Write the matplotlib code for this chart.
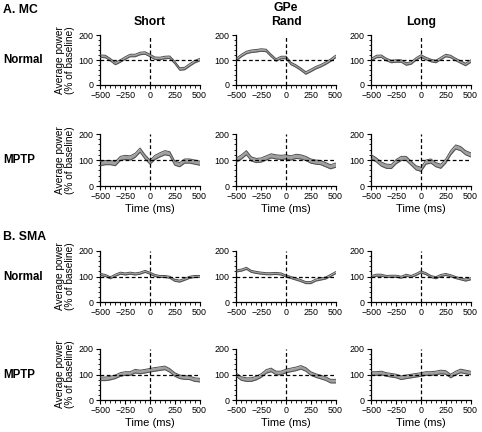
import numpy as np
import matplotlib
matplotlib.use("Agg")
import matplotlib.pyplot as plt
from matplotlib.ticker import MultipleLocator

plt.rcParams['font.family'] = ['Liberation Sans', 'DejaVu Sans']

# time axis (ms)
t = [-500, -450, -400, -350, -300, -250, -200, -150, -100, -50, 0,
     50, 100, 150, 200, 250, 300, 350, 400, 450, 500]

sections = ["A. MC", "B. SMA"]
conditions = ["Normal", "MPTP"]
columns = ["Short", "Rand", "Long"]

# mean average power (% of baseline), per section / condition / column
mc_normal_short = [115, 114, 101, 86, 96, 108, 118, 118, 126, 128, 118, 107, 106, 110, 111, 90, 64, 66, 80, 93, 101]
mc_normal_rand = [103, 118, 130, 135, 137, 140, 138, 118, 100, 110, 110, 86, 76, 63, 48, 58, 69, 77, 87, 99, 114]
mc_normal_long = [102, 114, 115, 102, 94, 96, 96, 84, 88, 104, 116, 106, 98, 94, 106, 118, 114, 102, 92, 82, 95]

mc_mptp_short = [86, 90, 90, 86, 106, 110, 108, 118, 138, 112, 92, 110, 120, 128, 124, 88, 82, 96, 96, 92, 88]
mc_mptp_rand = [100, 112, 128, 104, 98, 100, 108, 116, 112, 110, 112, 108, 114, 112, 106, 96, 92, 90, 82, 74, 80]
mc_mptp_long = [112, 100, 84, 76, 75, 94, 106, 106, 88, 70, 64, 92, 96, 82, 76, 96, 128, 150, 144, 128, 120]

sma_normal_short = [108, 104, 95, 105, 113, 110, 113, 110, 113, 120, 113, 104, 100, 100, 97, 85, 82, 89, 97, 100, 100]
sma_normal_rand = [122, 125, 132, 120, 116, 113, 111, 111, 112, 110, 102, 96, 90, 84, 76, 76, 86, 90, 94, 104, 115]
sma_normal_long = [100, 105, 105, 100, 101, 101, 97, 105, 100, 108, 118, 111, 100, 95, 104, 108, 103, 96, 91, 86, 91]

sma_mptp_short = [83, 83, 86, 91, 100, 104, 104, 113, 110, 113, 117, 120, 123, 126, 116, 100, 91, 88, 87, 80, 78]
sma_mptp_rand = [98, 84, 80, 80, 86, 96, 112, 118, 106, 106, 114, 118, 122, 128, 120, 104, 96, 90, 84, 74, 74]
sma_mptp_long = [104, 104, 106, 100, 97, 94, 87, 91, 94, 97, 100, 104, 104, 106, 110, 108, 94, 106, 114, 110, 106]

# band half-width (sem) per row
sem_rows = [5, 8, 4, 7]

rows = [
    [mc_normal_short, mc_normal_rand, mc_normal_long],
    [mc_mptp_short, mc_mptp_rand, mc_mptp_long],
    [sma_normal_short, sma_normal_rand, sma_normal_long],
    [sma_mptp_short, sma_mptp_rand, sma_mptp_long],
]

W, H = 482, 432
fig = plt.figure(figsize=(W / 100, H / 100), dpi=100)

col_left = [101, 237, 372]
col_w = 98
row_top = [35, 134, 251, 349]
row_bot = [85, 186, 302, 400]

t = np.array(t)
for r in range(4):
    for c in range(3):
        x0 = (col_left[c] - 1) / W
        y0 = 1 - row_bot[r] / H
        ax = fig.add_axes([x0, y0, (col_w + 2) / W, (row_bot[r] - row_top[r]) / H])
        m = np.array(rows[r][c])
        s = sem_rows[r]
        ax.fill_between(t, m - s, m + s, color='#a0a0a0', lw=0, zorder=2)
        ax.plot(t, m + s, color='#505050', lw=0.7, zorder=3)
        ax.plot(t, m - s, color='#505050', lw=0.7, zorder=3)
        ax.axhline(100, color='black', lw=0.9, ls=(0, (3, 2)), zorder=4)
        ax.axvline(0, color='black', lw=0.9, ls=(0, (3, 2)), zorder=4)
        ax.set_xlim(-505, 505)
        ax.set_ylim(0, 200)
        ax.set_xticks([-500, -250, 0, 250, 500])
        ax.set_yticks([0, 100, 200])
        ax.xaxis.set_minor_locator(MultipleLocator(50))
        ax.yaxis.set_minor_locator(MultipleLocator(20))
        ax.tick_params(which='major', length=3, width=0.8, labelsize=6.4, pad=1.5)
        ax.tick_params(which='minor', length=1.8, width=0.6)
        for sp in ['top', 'right']:
            ax.spines[sp].set_visible(False)
        for sp in ['left', 'bottom']:
            ax.spines[sp].set_linewidth(0.9)
        if r in (1, 3):
            ax.set_xlabel("Time (ms)", fontsize=8, labelpad=2)
        if c == 0:
            ax.set_ylabel("Average power\n(% of baseline)", fontsize=7.3, labelpad=3,
                          linespacing=0.95)

# headings
fig.text(3 / W, 1 - 10 / H, sections[0], fontsize=8.8, fontweight='bold', va='center')
fig.text(3 / W, 1 - 237 / H, sections[1], fontsize=8.8, fontweight='bold', va='center')
fig.text(286 / W, 1 - 8 / H, "GPe", fontsize=8.8, fontweight='bold', ha='center', va='center')
for c, name in enumerate(columns):
    fig.text((col_left[c] + col_w / 2) / W, 1 - 22 / H, name, fontsize=8.8,
             fontweight='bold', ha='center', va='center')
for r in range(4):
    yc = (row_top[r] + row_bot[r]) / 2
    fig.text(3 / W, 1 - yc / H, conditions[r % 2], fontsize=8.3, fontweight='bold', va='center')

fig.savefig("out.png", dpi=100)
